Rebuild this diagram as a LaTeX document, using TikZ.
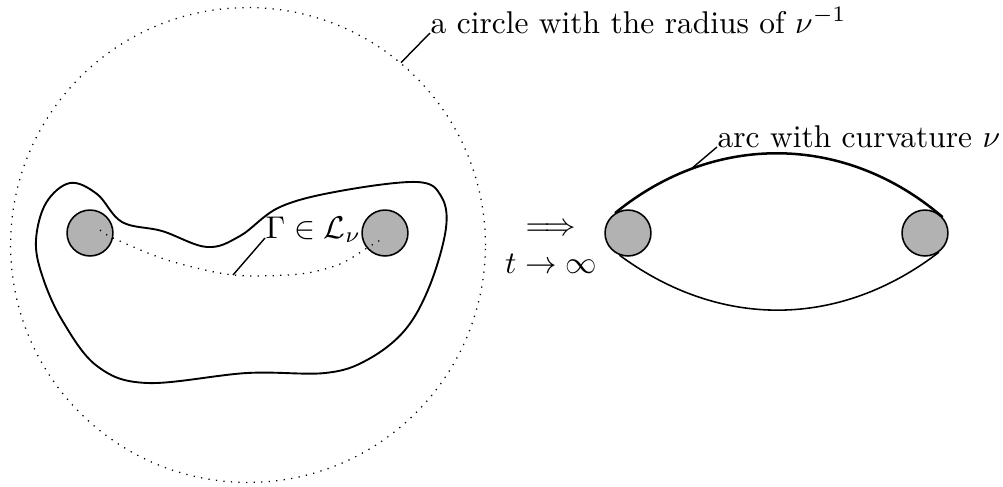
\documentclass[tikz,border=0pt]{standalone}
\usepackage{amsmath,amssymb}
\usepackage{tikz}
\usetikzlibrary{positioning}
\definecolor{dGray}{gray}{0.7}
\tikzset{
  disk/.style={circle, draw, fill=dGray, line width=0.5pt, minimum size=14.6pt, inner sep=0pt},
  bigring/.style={circle, draw, dotted, minimum size=151pt, inner sep=0pt},
  lbl/.style={anchor=base west, inner sep=0pt},
  lead/.style={line width=0.45pt},
}
\begin{document}
\begin{tikzpicture}[x=0.318pt, y=-0.318pt]
  \useasboundingbox (0,0) rectangle (1003,486);
  \node[bigring] (rg) at (248,245) {};
  \draw[line width=0.6pt] plot[smooth cycle, tension=0.6] coordinates {(36,240) (46,203) (70,183)
    (97,194) (122,222) (162,231) (207,247) (240,236) (280,207) (340,191) (417,182)
    (441,196) (446,228) (430,285) (405,330) (367,360) (325,373) (247,373) (147,383) (97,366)
    (62,320) (42,275)};
  \node[disk] (dA) at (90,233) {};
  \node[disk] (dB) at (385,233) {};
  \draw[dotted] plot[smooth] coordinates {(100,230) (113,238) (167,260) (233,275) (300,274)
    (340,264) (367,248) (382,239)};
  \coordinate (gm) at (233,275);
  \node[lbl] (gl) at (265,238) {$\Gamma\in\mathcal{L}_\nu$};
  \draw[lead] (gm) -- (gl.base west);
  \node[lbl] (cl) at (430,33) {a circle with the radius of $\nu^{-1}$};
  \draw[lead] (rg.50) -- (cl.base west);
  \node[align=center, inner sep=0pt] (lim) at (551,249) {$\Longrightarrow$\\$t\to\infty$};
  \node[disk] (dC) at (628,233) {};
  \node[disk] (dD) at (925,233) {};
  \draw[line width=0.8pt] (dC.123) to[bend left=40] coordinate[pos=0.24] (ap) (dD.42);
  \draw[line width=0.5pt] (dC.249) to[bend right=37] (dD.306);
  \node[lbl] (al) at (717,147) {arc with curvature $\nu$};
  \draw[lead] (ap) -- (al.base west);
\end{tikzpicture}
\end{document}
